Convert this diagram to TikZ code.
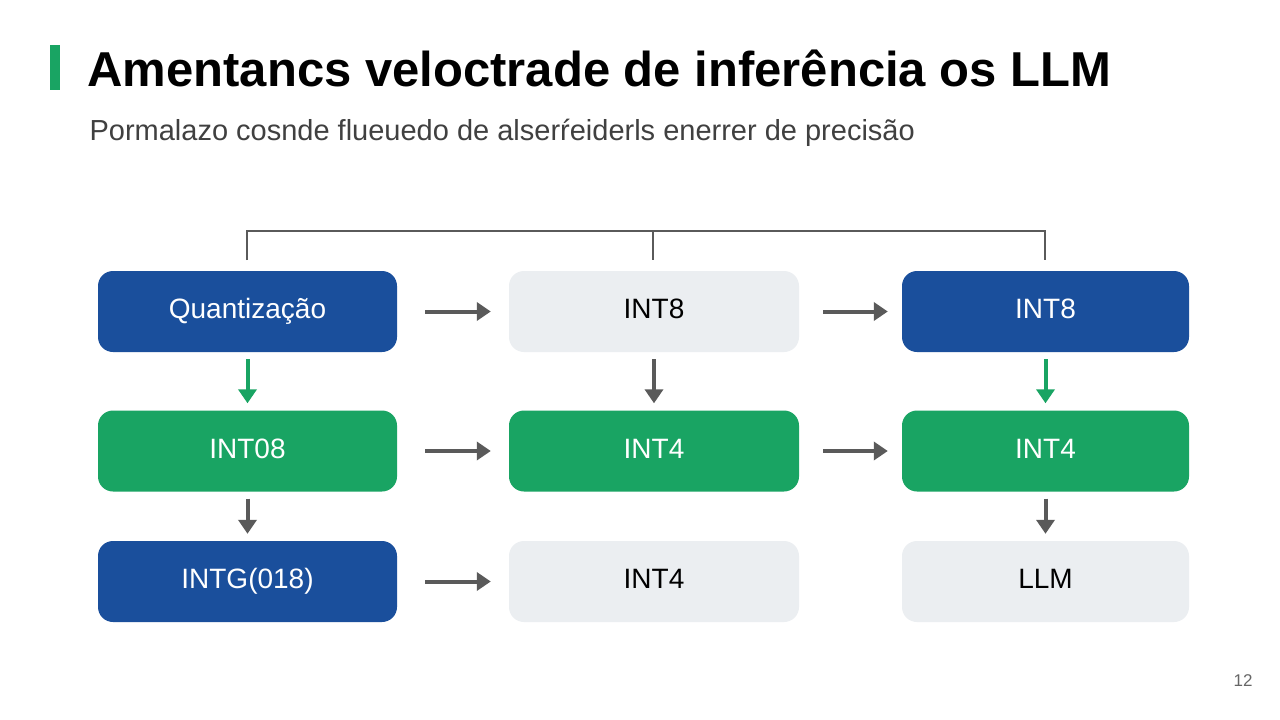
\documentclass[tikz,border=0pt]{standalone}
\usepackage{fontspec}
\setmainfont{Liberation Sans}
\usetikzlibrary{arrows.meta}
\definecolor{cblue}{HTML}{1A4F9C}
\definecolor{cgreen}{HTML}{19A463}
\definecolor{clight}{HTML}{EBEEF1}
\definecolor{cgray}{HTML}{5A5A5A}
\begin{document}
\begin{tikzpicture}[x=1pt,y=-1pt,
  box/.style={rounded corners=15pt,minimum width=290pt,minimum height=81pt,inner sep=0pt,text height=20pt,text depth=6pt,font=\fontsize{28}{32}\selectfont},
  bbox/.style={box,fill=cblue,text=white},
  gbox/.style={box,fill=cgreen,text=white},
  lbox/.style={box,fill=clight,text=black},
  arr/.style={-{Triangle[length=14pt,width=18pt]},line width=4pt,draw=cgray},
  garr/.style={arr,draw=cgreen}]
\useasboundingbox (0,0) rectangle (1280,720);
\fill[white] (0,0) rectangle (1280,720);
\fill[cgreen] (50,45) rectangle (60,90);
\node[anchor=west,font=\fontsize{49}{54}\selectfont\bfseries] (t) at (84,68) {Amentancs veloctrade de inferência os LLM};
\node[anchor=west,text=black!75,font=\fontsize{29}{34}\selectfont] (s) at (86,133) {Pormalazo cosnde flueuedo de alserŕeiderls enerrer de precisão};
\node[text=black!60,font=\fontsize{17}{20}\selectfont] (pg) at (1243,681) {12};
\node[bbox,minimum width=299pt] (a1) at (247.5,311.5) {Quantização};
\node[lbox] (b1) at (654,311.5) {INT8};
\node[bbox,minimum width=287pt] (c1) at (1045.5,311.5) {INT8};
\node[gbox,minimum width=299pt] (a2) at (247.5,451) {INT08};
\node[gbox] (b2) at (654,451) {INT4};
\node[gbox,minimum width=287pt] (c2) at (1045.5,451) {INT4};
\node[bbox,minimum width=299pt] (a3) at (247.5,581.5) {INTG(018)};
\node[lbox] (b3) at (654,581.5) {INT4};
\node[lbox,minimum width=287pt] (c3) at (1045.5,581.5) {LLM};
\coordinate (k1) at (247,231); \coordinate (k3) at (1045,231);
\draw[cgray,line width=2.5pt] (247,260) -- (k1) -- (k3) -- (1045,260);
\draw[cgray,line width=2.5pt] (653,231) -- (653,260);
\foreach \r in {1,2}{
  \draw[arr] ([xshift=28pt]a\r.east) -- ([xshift=-18pt]b\r.west);
  \draw[arr] ([xshift=24pt]b\r.east) -- ([xshift=-14pt]c\r.west);}
\draw[arr] ([xshift=28pt]a3.east) -- ([xshift=-18pt]b3.west);
\draw[garr] ([yshift=-7pt]a1.south) -- ([yshift=7pt]a2.north);
\draw[arr] ([yshift=-7pt]a2.south) -- ([yshift=7pt]a3.north);
\draw[arr] ([yshift=-7pt]b1.south) -- ([yshift=7pt]b2.north);
\draw[garr] ([yshift=-7pt]c1.south) -- ([yshift=7pt]c2.north);
\draw[arr] ([yshift=-7pt]c2.south) -- ([yshift=7pt]c3.north);
\end{tikzpicture}
\end{document}
